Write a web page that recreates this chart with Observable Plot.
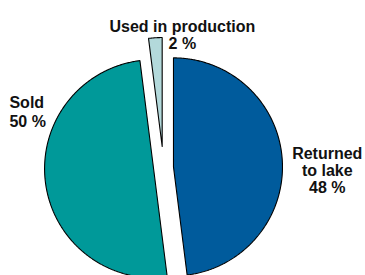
<!DOCTYPE html>
<html><head><meta charset="utf-8">
<script src="https://cdn.jsdelivr.net/npm/d3@7"></script>
<script src="https://cdn.jsdelivr.net/npm/@observablehq/plot@0.6"></script>
<style>html,body{margin:0;padding:0;background:#fff;overflow:hidden}</style>
</head><body><div id="chart"></div>
<script>
const categories = ["Returned to lake", "Sold", "Used in production"];
const labels = ["Returned\nto lake\n48 %", "Sold\n50 %", "Used in production\n2 %"];
const values = [48, 50, 2];
const colors = ["#005b9c", "#009999", "#b3d9db"];

const style = {
  radius: 109,
  explode: [10, 10, 21],
  label: [
    {dx: 45, dy: 10.5, anchor: "middle", lh: 1.06},
    {dx: -36, dy: -71, anchor: "start", lh: 1.2},
    {dx: 27, dy: -3, anchor: "middle", lh: 1.12}
  ]
};

const R = style.radius;
const arcs = d3.pie().sort(null).value(d => d)(values);
const rows = [];
const labelRows = [];
arcs.forEach((a, i) => {
  const mid = (a.startAngle + a.endAngle) / 2;
  const cx = style.explode[i] * Math.sin(mid);
  const cy = style.explode[i] * Math.cos(mid);
  const cat = categories[i];
  rows.push({cat, x: cx, y: cy});
  const n = Math.max(2, Math.ceil((a.endAngle - a.startAngle) / (Math.PI / 360)));
  for (let k = 0; k <= n; k++) {
    const t = a.startAngle + (a.endAngle - a.startAngle) * k / n;
    rows.push({cat, x: cx + R * Math.sin(t), y: cy + R * Math.cos(t)});
  }
  rows.push({cat, x: cx, y: cy});
  labelRows.push({cat, text: labels[i], x: cx + R * Math.sin(mid), y: cy + R * Math.cos(mid), i});
});

const textMarks = labelRows.map(d => Plot.text([d], {
  x: "x", y: "y", text: "text",
  dx: style.label[d.i].dx, dy: style.label[d.i].dy,
  textAnchor: style.label[d.i].anchor,
  lineAnchor: "middle",
  lineHeight: style.label[d.i].lh,
  fontSize: 16, fontWeight: "bold",
  fontFamily: "Liberation Sans, Arial, sans-serif",
  fill: "#111"
}));

const chart = Plot.plot({
  width: 365, height: 275,
  margin: 0,
  x: {domain: [-163, 202], axis: null},
  y: {domain: [-108, 167], axis: null},
  color: {domain: categories, range: colors},
  marks: [
    ...categories.map(c => Plot.line(rows.filter(r => r.cat === c), {
      x: "x", y: "y", fill: "cat", stroke: "black", strokeWidth: 1.1,
      strokeLinejoin: "miter", curve: "linear"
    })),
    ...textMarks
  ]
});
document.getElementById("chart").appendChild(chart);
</script>
</body></html>
